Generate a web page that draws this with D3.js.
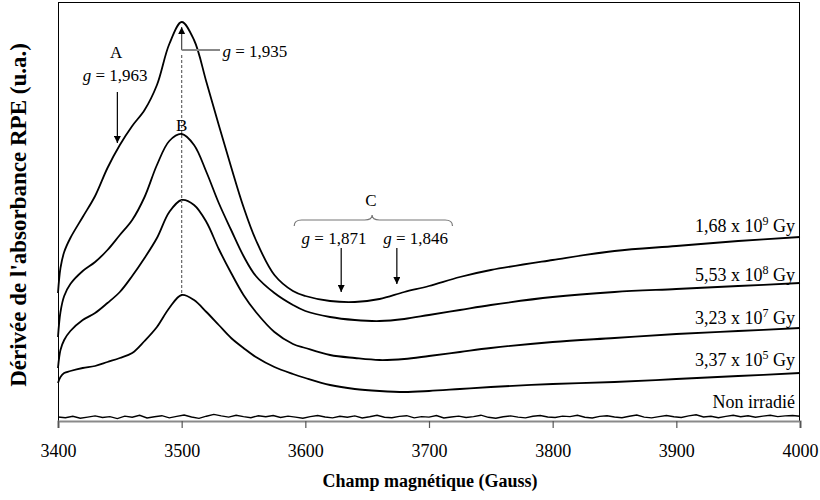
<!DOCTYPE html>
<html>
<head>
<meta charset="utf-8">
<script src="https://cdn.jsdelivr.net/npm/d3@7"></script>
<style>
  html, body { margin: 0; padding: 0; background: #fff; }
  svg text { font-family: "Liberation Serif", "Times New Roman", serif; fill: #000; }
</style>
</head>
<body>
<svg id="chart" width="820" height="500"></svg>
<script>
// ---------------- data ----------------
const fields = [3400,3402,3405,3410,3420,3430,3440,3450,3460,3470,3480,3490,3500,3510,3520,3530,3540,3550,3560,3575,3590,3600,3620,3640,3660,3680,3700,3725,3750,3800,3850,3900,3950,4000];

const dose168e9 = [128,153,169,183,204,225,253,276,295,311,336,377,399,381,339,296,254,214,181,146,130,125,120,119,122,129,135,144,151,161,170,175,180,184];
const dose553e8 = [84,109,125,137,150,159,171,186,201,224,256,280,287,276,249,218,191,165,145,128,116,110,104,101,100,102,106,111,116,124,129,132,135,138];
const dose323e7 = [53,71,81,90,101,108,118,129,145,163,183,209,221,216,199,172,148,126,109,89,77,73,66,63,61,62,65,69,73,79,83,87,90,93];
const dose337e5 = [38,44,48,50,53,55,59,63,68,80,94,113,126,121,109,96,83,73,64,54,47,43,36,32,30,29,30,32,34,37,39,42,45,48];

const noiseFields = d3.range(3400, 4000.1, 6);
const nonIrradie = [
  4.0,3.3,4.8,2.8,3.9,5.1,3.5,4.4,2.4,4.9,
  3.7,5.7,3.0,4.2,5.3,3.1,4.6,6.0,4.0,2.6,
  4.8,6.6,5.1,3.9,5.8,4.4,3.3,5.3,4.2,5.5,
  3.5,4.9,3.9,2.8,4.4,5.5,4.0,3.1,4.8,3.7,
  5.1,3.0,4.2,5.7,3.7,3.3,4.6,5.3,3.1,4.4,
  3.9,5.5,3.0,4.0,4.9,3.5,4.4,5.8,3.7,2.8,
  4.2,5.1,3.9,3.1,4.8,5.5,4.0,3.5,4.9,4.4,
  5.7,3.7,3.0,4.6,5.3,4.0,3.3,4.8,6.0,3.9,
  3.1,4.4,5.5,4.2,3.5,5.1,6.2,4.0,4.8,3.3,
  4.6,5.7,4.2,5.3,3.7,4.9,5.8,4.4,5.1,5.5,
  4.8
];

const xTicks = [3400,3500,3600,3700,3800,3900,4000];
const seriesLabels = [
  {base: "1,68 x 10", exp: "9", unit: " Gy"},
  {base: "5,53 x 10", exp: "8", unit: " Gy"},
  {base: "3,23 x 10", exp: "7", unit: " Gy"},
  {base: "3,37 x 10", exp: "5", unit: " Gy"},
  {base: "Non irradié", exp: "", unit: ""}
];
const labelLevels = [189, 140, 97, 55, 13];

const xTitle = "Champ magnétique (Gauss)";
const yTitle = "Dérivée de l'absorbance RPE (u.a.)";

// ---------------- layout ----------------
const svg = d3.select("#chart");
const plotL = 58, plotR = 800, plotT = 2, plotB = 421;

const x = d3.scaleLinear().domain([3400, 4000]).range([plotL, plotR]);
const y = d3.scaleLinear().domain([0, 419]).range([plotB, plotT]);

// frame
svg.append("line").attr("x1", plotL).attr("x2", plotR).attr("y1", plotT + 0.5).attr("y2", plotT + 0.5)
  .attr("stroke", "#000").attr("stroke-width", 1);
svg.append("line").attr("x1", plotL + 0.5).attr("x2", plotL + 0.5).attr("y1", plotT).attr("y2", plotB)
  .attr("stroke", "#000").attr("stroke-width", 1);
svg.append("line").attr("x1", plotR - 0.5).attr("x2", plotR - 0.5).attr("y1", plotT).attr("y2", plotB)
  .attr("stroke", "#000").attr("stroke-width", 1);

// x axis
const xAxis = d3.axisBottom(x).tickValues(xTicks).tickFormat(d3.format("d")).tickSize(7).tickPadding(16);
const gx = svg.append("g").attr("transform", `translate(0,${plotB})`).call(xAxis);
gx.select(".domain").attr("stroke", "#8a8a8a").attr("stroke-width", 2.2);
gx.selectAll(".tick line").attr("stroke", "#555").attr("stroke-width", 1.2);
gx.selectAll(".tick text").style("font-family", "'Liberation Serif', serif").style("font-size", "18px").attr("fill", "#000");

// titles
svg.append("text").attr("x", 430).attr("y", 487).attr("text-anchor", "middle")
  .style("font-size", "18px").style("font-weight", "bold").text(xTitle);
svg.append("text").attr("transform", "translate(26,215) rotate(-90)").attr("text-anchor", "middle")
  .style("font-size", "23px").style("font-weight", "bold").text(yTitle);

// curves
const line = d3.line().x((d) => x(d[0])).y((d) => y(d[1])).curve(d3.curveCatmullRom.alpha(0.5));
const curves = [dose168e9, dose553e8, dose323e7, dose337e5];
curves.forEach((vals) => {
  svg.append("path").datum(fields.map((f, i) => [f, vals[i]]))
    .attr("fill", "none").attr("stroke", "#000").attr("stroke-width", 1.8)
    .attr("stroke-linejoin", "round").attr("d", line);
});
const noiseLine = d3.line().x((d) => x(d[0])).y((d) => y(d[1]));
svg.append("path").datum(noiseFields.map((f, i) => [f, nonIrradie[i]]))
  .attr("fill", "none").attr("stroke", "#000").attr("stroke-width", 1.4).attr("d", noiseLine);

// series labels
seriesLabels.forEach((s, i) => {
  const t = svg.append("text").attr("x", 795).attr("y", y(labelLevels[i]))
    .attr("text-anchor", "end").style("font-size", "18px");
  t.append("tspan").text(s.base);
  if (s.exp) {
    t.append("tspan").attr("dy", -7).style("font-size", "12px").text(s.exp);
    t.append("tspan").attr("dy", 7).text(s.unit);
  }
});

// arrow marker
const defs = svg.append("defs");
defs.append("marker").attr("id", "arr").attr("viewBox", "0 0 10 10")
  .attr("refX", 10).attr("refY", 5).attr("markerWidth", 7).attr("markerHeight", 7)
  .attr("markerUnits", "userSpaceOnUse").attr("orient", "auto")
  .append("path").attr("d", "M0,0 L10,5 L0,10 z").attr("fill", "#000");

function arrow(f, v1, v2, color) {
  svg.append("line").attr("x1", x(f)).attr("x2", x(f)).attr("y1", y(v1)).attr("y2", y(v2))
    .attr("stroke", color || "#000").attr("stroke-width", 1.2).attr("marker-end", "url(#arr)");
}
function gLabel(f, v, num, anchor) {
  const t = svg.append("text").attr("x", x(f)).attr("y", y(v))
    .attr("text-anchor", anchor || "start").style("font-size", "17px");
  t.append("tspan").style("font-style", "italic").text("g");
  t.append("tspan").text("  = " + num);
  return t;
}

// A
svg.append("text").attr("x", x(3447)).attr("y", y(363)).attr("text-anchor", "middle").style("font-size", "17px").text("A");
gLabel(3420, 340, "1,963");
arrow(3448, 329, 278);

// peak B marker
svg.append("line").attr("x1", x(3500)).attr("x2", x(3500)).attr("y1", y(366)).attr("y2", y(128))
  .attr("stroke", "#666").attr("stroke-width", 1.2).attr("stroke-dasharray", "3,2");
arrow(3500, 371, 394, "#444");
svg.append("line").attr("x1", x(3500)).attr("x2", x(3531)).attr("y1", y(371)).attr("y2", y(371))
  .attr("stroke", "#888").attr("stroke-width", 1.8);
gLabel(3533, 364, "1,935");
svg.append("text").attr("x", x(3500)).attr("y", y(290)).attr("text-anchor", "middle").style("font-size", "17px").text("B");

// C
svg.append("text").attr("x", x(3653)).attr("y", y(215)).attr("text-anchor", "middle").style("font-size", "17px").text("C");
const bL = 3591, bR = 3719, bM = 3654, bE = 195, bB = 201, bT = 206;
const brace = d3.path();
brace.moveTo(x(bL), y(bE));
brace.quadraticCurveTo(x(bL), y(bB), x(bL + 6), y(bB));
brace.lineTo(x(bM - 6), y(bB));
brace.quadraticCurveTo(x(bM), y(bB), x(bM), y(bT));
brace.quadraticCurveTo(x(bM), y(bB), x(bM + 6), y(bB));
brace.lineTo(x(bR - 6), y(bB));
brace.quadraticCurveTo(x(bR), y(bB), x(bR), y(bE));
svg.append("path").attr("d", brace.toString()).attr("fill", "none").attr("stroke", "#777").attr("stroke-width", 1.2);
gLabel(3597, 177, "1,871");
gLabel(3663, 177, "1,846");
arrow(3629, 173, 129);
arrow(3674, 173, 137);
</script>
</body>
</html>
